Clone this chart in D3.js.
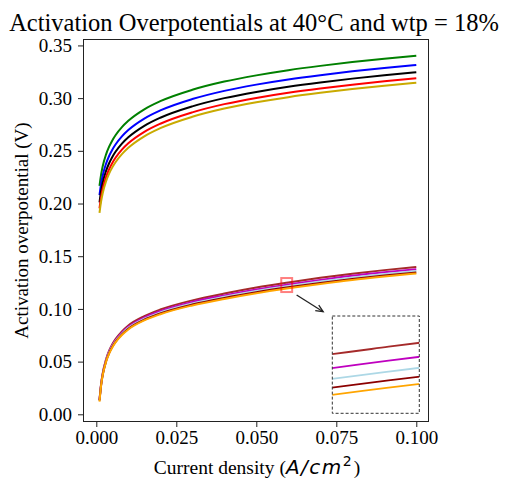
<!DOCTYPE html>
<html>
<head>
<meta charset="utf-8">
<script src="https://cdn.jsdelivr.net/npm/d3@7"></script>
<style>
  html, body { margin: 0; padding: 0; background: #fff; }
  svg { display: block; }
  text { font-family: "Liberation Serif", "Times New Roman", serif; }
</style>
</head>
<body>
<div id="chart"></div>
<script>
// ---------------- data ----------------
const currentDensity = [0.001, 0.0015, 0.002, 0.003, 0.004, 0.005, 0.006, 0.008, 0.01, 0.015, 0.02, 0.03, 0.04, 0.05, 0.06, 0.07, 0.08, 0.09, 0.1];

// upper group of curves
const greenSeries = [0.2168, 0.2276, 0.2354, 0.2462, 0.2539, 0.2599, 0.2648, 0.2725, 0.2785, 0.2894, 0.2971, 0.3079, 0.3157, 0.3216, 0.3265, 0.3306, 0.3342, 0.3374, 0.3402];
const blueSeries  = [0.2080, 0.2188, 0.2266, 0.2374, 0.2451, 0.2511, 0.2560, 0.2637, 0.2697, 0.2806, 0.2883, 0.2991, 0.3069, 0.3128, 0.3177, 0.3218, 0.3254, 0.3286, 0.3314];
const blackSeries = [0.2011, 0.2119, 0.2197, 0.2305, 0.2382, 0.2442, 0.2491, 0.2568, 0.2628, 0.2737, 0.2814, 0.2922, 0.3000, 0.3059, 0.3108, 0.3149, 0.3185, 0.3217, 0.3245];
const redSeries   = [0.1954, 0.2062, 0.2140, 0.2248, 0.2325, 0.2385, 0.2434, 0.2511, 0.2571, 0.2680, 0.2757, 0.2865, 0.2943, 0.3002, 0.3051, 0.3092, 0.3128, 0.3160, 0.3188];
const oliveSeries = [0.1912, 0.2020, 0.2098, 0.2206, 0.2283, 0.2343, 0.2392, 0.2469, 0.2529, 0.2638, 0.2715, 0.2823, 0.2901, 0.2960, 0.3009, 0.3050, 0.3086, 0.3118, 0.3146];

// lower group of curves
const brownSeries     = [0.0136, 0.0288, 0.0389, 0.0517, 0.0603, 0.0665, 0.0713, 0.0787, 0.0843, 0.0932, 0.0994, 0.1081, 0.1146, 0.1203, 0.1251, 0.1295, 0.1334, 0.1368, 0.1398];
const magentaSeries   = [0.0134, 0.0283, 0.0383, 0.0509, 0.0594, 0.0655, 0.0702, 0.0775, 0.0830, 0.0918, 0.0979, 0.1065, 0.1128, 0.1184, 0.1232, 0.1275, 0.1314, 0.1347, 0.1376];
const lightblueSeries = [0.0132, 0.0280, 0.0378, 0.0503, 0.0587, 0.0647, 0.0694, 0.0766, 0.0820, 0.0907, 0.0967, 0.1052, 0.1115, 0.1170, 0.1217, 0.1260, 0.1298, 0.1331, 0.1360];
const darkredSeries   = [0.0131, 0.0277, 0.0374, 0.0498, 0.0581, 0.0641, 0.0687, 0.0758, 0.0812, 0.0898, 0.0957, 0.1041, 0.1104, 0.1158, 0.1205, 0.1247, 0.1285, 0.1318, 0.1346];
const orangeSeries    = [0.0120, 0.0275, 0.0371, 0.0494, 0.0576, 0.0635, 0.0682, 0.0752, 0.0805, 0.0891, 0.0950, 0.1033, 0.1095, 0.1149, 0.1195, 0.1237, 0.1275, 0.1307, 0.1336];

const seriesNames  = ["green", "blue", "black", "red", "olive", "brown", "magenta", "lightblue", "darkred", "orange"];
const seriesValues = [greenSeries, blueSeries, blackSeries, redSeries, oliveSeries, brownSeries, magentaSeries, lightblueSeries, darkredSeries, orangeSeries];
const seriesColors = ["#008000", "#0000ff", "#000000", "#ff0000", "#c9aa00", "#a52a2a", "#bf00bf", "#add8e6", "#8b0000", "#ffa500"];
const insetSeries  = ["brown", "magenta", "lightblue", "darkred", "orange"];

const xTickValues = [0, 0.025, 0.05, 0.075, 0.1];
const yTickValues = [0, 0.05, 0.10, 0.15, 0.20, 0.25, 0.30, 0.35];

// zoom window (data coords) and annotation arrow (data coords)
const zoomX = [0.0578, 0.0612];
const zoomY = [0.1160, 0.1293];
const arrowFrom = [0.0626, 0.1132];
const arrowTo   = [0.0709, 0.0973];

const titleText = "Activation Overpotentials at 40°C and wtp = 18%";
const yLabelText = "Activation overpotential (V)";

// ---------------- layout ----------------
const W = 505, H = 478;
const plot = { left: 83, right: 429, top: 39, bottom: 422 };
const insetBox = { left: 332.3, right: 419.3, top: 316, bottom: 413.3 };

const svg = d3.select("#chart").append("svg")
  .attr("width", W).attr("height", H)
  .attr("viewBox", `0 0 ${W} ${H}`);

const x = d3.scaleLinear().domain([-0.00416, 0.10397]).range([plot.left, plot.right]);
const y = d3.scaleLinear().domain([-0.0073, 0.3561]).range([plot.bottom, plot.top]);

const rows = seriesNames.map((name, i) => ({
  name, color: seriesColors[i],
  points: currentDensity.map((c, j) => [c, seriesValues[i][j]])
}));

const defs = svg.append("defs");
defs.append("clipPath").attr("id", "plotClip").append("rect")
  .attr("x", plot.left).attr("y", plot.top)
  .attr("width", plot.right - plot.left).attr("height", plot.bottom - plot.top);
defs.append("clipPath").attr("id", "insetClip").append("rect")
  .attr("x", insetBox.left).attr("y", insetBox.top)
  .attr("width", insetBox.right - insetBox.left).attr("height", insetBox.bottom - insetBox.top);

// title
svg.append("text")
  .attr("x", 254).attr("y", 31)
  .attr("text-anchor", "middle")
  .style("font-size", "24.5px")
  .attr("fill", "#000")
  .text(titleText);

// lines
const line = d3.line().x(d => x(d[0])).y(d => y(d[1])).curve(d3.curveMonotoneX);
svg.append("g").attr("clip-path", "url(#plotClip)")
  .selectAll("path").data(rows).join("path")
  .attr("d", d => line(d.points))
  .attr("fill", "none")
  .attr("stroke", d => d.color)
  .attr("stroke-width", 2)
  .attr("stroke-linejoin", "round");

// zoom rectangle
svg.append("rect")
  .attr("x", x(zoomX[0])).attr("y", y(zoomY[1]))
  .attr("width", x(zoomX[1]) - x(zoomX[0]))
  .attr("height", y(zoomY[0]) - y(zoomY[1]))
  .attr("fill", "none")
  .attr("stroke", "#ff0000").attr("stroke-opacity", 0.5)
  .attr("stroke-width", 2);

// arrow
const ax0 = x(arrowFrom[0]), ay0 = y(arrowFrom[1]);
const ax1 = x(arrowTo[0]), ay1 = y(arrowTo[1]);
const ang = Math.atan2(ay1 - ay0, ax1 - ax0);
const headLen = 8, headAng = 0.42;
svg.append("line")
  .attr("x1", ax0).attr("y1", ay0).attr("x2", ax1).attr("y2", ay1)
  .attr("stroke", "#222").attr("stroke-width", 1.3);
svg.append("path")
  .attr("d", `M${ax1 - headLen * Math.cos(ang - headAng)},${ay1 - headLen * Math.sin(ang - headAng)}L${ax1},${ay1}L${ax1 - headLen * Math.cos(ang + headAng)},${ay1 - headLen * Math.sin(ang + headAng)}`)
  .attr("fill", "none").attr("stroke", "#222").attr("stroke-width", 1.3);

// inset
const xi = d3.scaleLinear().domain(zoomX).range([insetBox.left, insetBox.right]);
const yi = d3.scaleLinear().domain(zoomY).range([insetBox.bottom, insetBox.top]);
const lineInset = d3.line().x(d => xi(d[0])).y(d => yi(d[1])).curve(d3.curveMonotoneX);
svg.append("rect")
  .attr("x", insetBox.left).attr("y", insetBox.top)
  .attr("width", insetBox.right - insetBox.left).attr("height", insetBox.bottom - insetBox.top)
  .attr("fill", "#fff");
svg.append("g").attr("clip-path", "url(#insetClip)")
  .selectAll("path").data(rows.filter(r => insetSeries.includes(r.name))).join("path")
  .attr("d", d => lineInset(d.points))
  .attr("fill", "none")
  .attr("stroke", d => d.color)
  .attr("stroke-width", 1.8);
svg.append("rect")
  .attr("x", insetBox.left).attr("y", insetBox.top)
  .attr("width", insetBox.right - insetBox.left).attr("height", insetBox.bottom - insetBox.top)
  .attr("fill", "none")
  .attr("stroke", "#333").attr("stroke-width", 1)
  .attr("stroke-dasharray", "3,2");

// frame
svg.append("rect")
  .attr("x", plot.left + 0.5).attr("y", plot.top + 0.5)
  .attr("width", plot.right - plot.left - 1).attr("height", plot.bottom - plot.top - 1)
  .attr("fill", "none").attr("stroke", "#222").attr("stroke-width", 1);

// axes
const xAxis = svg.append("g")
  .attr("transform", `translate(0,${plot.bottom})`)
  .call(d3.axisBottom(x).tickValues(xTickValues).tickFormat(d3.format(".3f")).tickSize(5).tickPadding(4));
const yAxis = svg.append("g")
  .attr("transform", `translate(${plot.left},0)`)
  .call(d3.axisLeft(y).tickValues(yTickValues).tickFormat(d3.format(".2f")).tickSize(5).tickPadding(6));
[xAxis, yAxis].forEach(g => {
  g.select(".domain").remove();
  g.selectAll(".tick line").attr("stroke", "#222");
  g.selectAll(".tick text")
    .attr("fill", "#000")
    .style("font-family", '"Liberation Serif", "Times New Roman", serif')
    .style("font-size", "19px");
});

// y label
svg.append("text")
  .attr("transform", `translate(28,${(plot.top + plot.bottom) / 2}) rotate(-90)`)
  .attr("text-anchor", "middle")
  .style("font-size", "19px")
  .attr("fill", "#000")
  .text(yLabelText);

// x label with math part
const xl = svg.append("text")
  .attr("x", 257).attr("y", 474)
  .attr("text-anchor", "middle")
  .style("font-size", "19.5px")
  .attr("fill", "#000");
xl.append("tspan").text("Current density (");
xl.append("tspan").style("font-family", '"DejaVu Sans", sans-serif').style("font-style", "italic").style("font-size", "20px").style("letter-spacing", "1.5px").text("A/cm");
xl.append("tspan").style("font-family", '"DejaVu Sans", sans-serif').style("font-size", "14px").attr("dy", -8).text("2");
xl.append("tspan").attr("dx", 2).attr("dy", 8).text(")");
</script>
</body>
</html>
